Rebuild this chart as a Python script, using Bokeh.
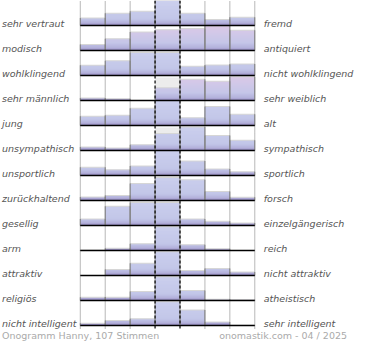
from bokeh.plotting import figure
from bokeh.models import Range1d, ColumnDataSource
from bokeh.core.properties import value
from bokeh.embed import file_html
from bokeh.resources import INLINE

left_labels = ["sehr vertraut", "modisch", "wohlklingend", "sehr männlich", "jung",
               "unsympathisch", "unsportlich", "zurückhaltend", "gesellig", "arm",
               "attraktiv", "religiös", "nicht intelligent"]
right_labels = ["fremd", "antiquiert", "nicht wohlklingend", "sehr weiblich", "alt",
                "sympathisch", "sportlich", "forsch", "einzelgängerisch", "reich",
                "nicht attraktiv", "atheistisch", "sehr intelligent"]

# bar heights per row (percent of row height), 7 scale steps
bars = [
    [30, 49, 57, 100, 49, 24, 33],
    [24, 47, 74, 83, 88, 99, 81],
    [41, 59, 92, 92, 37, 42, 46],
    [10, 7, 0, 51, 85, 77, 95],
    [37, 41, 69, 100, 31, 76, 45],
    [14, 10, 23, 68, 94, 60, 41],
    [33, 23, 38, 100, 58, 26, 15],
    [14, 20, 68, 92, 83, 36, 13],
    [26, 77, 92, 92, 26, 17, 10],
    [2, 9, 27, 95, 23, 7, 0],
    [0, 24, 49, 95, 20, 28, 14],
    [13, 13, 36, 95, 40, 5, 3],
    [9, 20, 27, 95, 62, 14, 1],
]
# rows with pink tinted bars
pink_rows = [1, 3]
# light grey shading in the neutral column (percent of row), 0 = none
neutral_shade = [0, 0, 0, 92, 0, 92, 0, 0, 0, 0, 0, 0, 0]

footer_left = "Onogramm Hanny, 107 Stimmen"
footer_right = "onomastik.com - 04 / 2025"

n_rows = len(bars)
n_cols = 7

def hex2rgb(h):
    h = h.lstrip("#")
    return tuple(int(h[i:i + 2], 16) for i in (0, 2, 4))

def grad(stops, t):
    for (t0, c0), (t1, c1) in zip(stops[:-1], stops[1:]):
        if t0 <= t <= t1:
            f = (t - t0) / (t1 - t0) if t1 > t0 else 0
            a, b = hex2rgb(c0), hex2rgb(c1)
            return "#%02x%02x%02x" % tuple(int(round(a[i] + (b[i] - a[i]) * f)) for i in range(3))
    return stops[-1][1]

blue_stops = [(0.0, "#968ac2"), (0.1, "#b2afda"), (0.25, "#c2c6e8"), (1.0, "#ccd0ee")]
pink_stops = [(0.0, "#968ac2"), (0.1, "#b2afda"), (0.3, "#c4c6e8"), (0.7, "#d2c8e8"), (1.0, "#dcc8e6")]

PX = 25.0  # pixels per row
H = 344
p = figure(width=354, height=H, output_backend="svg", toolbar_location=None,
           x_range=Range1d(-3.2, 11.0), y_range=Range1d(n_rows - H / PX, n_rows),
           x_axis_type=None, y_axis_type=None, min_border=0)
p.grid.visible = False
p.outline_line_color = None
p.background_fill_color = "white"

N = 20
bands = []
el_x, el_y0, el_y1 = [], [], []
tp_x0, tp_x1, tp_y = [], [], []
sh_l, sh_r, sh_b, sh_t = [], [], [], []
for i, row in enumerate(bars):
    yb = n_rows - 1 - i
    stops = pink_stops if i in pink_rows else blue_stops
    if neutral_shade[i] > 0:
        sh_l.append(3); sh_r.append(4)
        sh_b.append(yb + row[3] / 100.0); sh_t.append(yb + neutral_shade[i] / 100.0)
    for k, v in enumerate(row):
        h = v / 100.0
        if h <= 0:
            continue
        for j in range(N):
            lo = j / N
            if lo >= h:
                break
            hi = min(h, (j + 1) / N)
            bands.append((hi, k, yb, grad(stops, (lo + hi) / 2)))
        for ex in (k, k + 1):
            el_x.append(ex); el_y0.append(yb); el_y1.append(yb + h)
        tp_x0.append(k); tp_x1.append(k + 1); tp_y.append(yb + h)

bands.sort(key=lambda b: -b[0])
bsrc = ColumnDataSource(dict(
    left=[b[1] for b in bands], right=[b[1] + 1 for b in bands],
    bottom=[b[2] for b in bands], top=[b[2] + b[0] for b in bands],
    color=[b[3] for b in bands]))

p.quad(left=sh_l, right=sh_r, bottom=sh_b, top=sh_t, fill_color="#ececec", line_color=None)
p.quad(source=bsrc, left="left", right="right", bottom="bottom", top="top",
       fill_color="color", line_color=None)
p.segment(x0=tp_x0, x1=tp_x1, y0=tp_y, y1=tp_y, line_color="#d6d6d6", line_width=1)
p.segment(x0=el_x, x1=el_x, y0=el_y0, y1=el_y1, line_color="#8c8c8c", line_width=1)

# grid lines
dot_x = [0, 1, 2, 5, 6, 7]
p.segment(x0=dot_x, x1=dot_x, y0=[-0.12] * 6, y1=[n_rows] * 6,
          line_color="#707070", line_width=1, line_dash="1 1")
dash_x = [3, 4]
p.segment(x0=dash_x, x1=dash_x, y0=[-0.12] * 2, y1=[n_rows] * 2,
          line_color="black", line_width=1.2, line_dash="3 2")

# baselines
ys = [n_rows - 1 - i for i in range(n_rows)]
p.segment(x0=[0] * n_rows, x1=[n_cols] * n_rows, y0=ys, y1=ys, line_color="black", line_width=1.5)

p.text(x=[-3.14] * n_rows, y=[y + 0.1 for y in ys], text=left_labels,
       text_font=value("DejaVu Sans"), text_font_style="italic", text_font_size="9.5px",
       text_color="#555555", text_align="left", text_baseline="alphabetic")
p.text(x=[7.36] * n_rows, y=[y + 0.1 for y in ys], text=right_labels,
       text_font=value("DejaVu Sans"), text_font_style="italic", text_font_size="9.5px",
       text_color="#555555", text_align="left", text_baseline="alphabetic")

fy = -10.0 / PX
p.text(x=[-3.14], y=[fy], text=[footer_left], text_font=value("DejaVu Sans"),
       text_font_size="9.5px", text_color="#aaaaaa", text_align="left", text_baseline="alphabetic")
p.text(x=[10.7], y=[fy], text=[footer_right], text_font=value("DejaVu Sans"),
       text_font_size="9.5px", text_color="#aaaaaa", text_align="right", text_baseline="alphabetic")

open("out.html", "w").write(file_html(p, INLINE))
